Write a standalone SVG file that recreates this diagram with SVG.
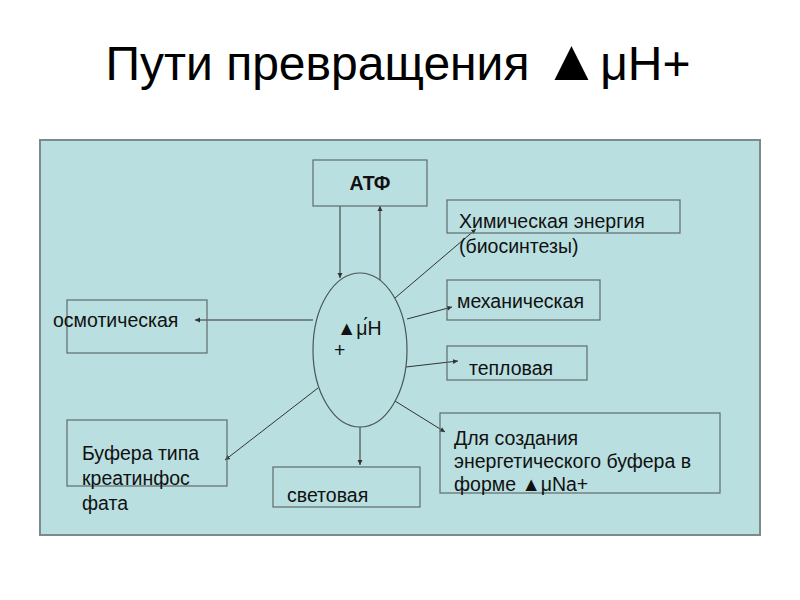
<svg xmlns="http://www.w3.org/2000/svg" width="800" height="600" viewBox="0 0 800 600">
<defs>
<marker id="arr" markerWidth="6" markerHeight="6" refX="5" refY="3" orient="auto" markerUnits="userSpaceOnUse">
<path d="M0,0.5 L5,3 L0,5.5 Z" fill="#333"/>
</marker>
<style>
.t{font-family:"Liberation Sans",Arial,sans-serif;fill:#111;font-size:19.5px}
.box{fill:none;stroke:#5f6b6b;stroke-width:1.2}
.ln{stroke:#333;stroke-width:1;fill:none;marker-end:url(#arr)}
</style>
</defs>
<rect width="800" height="600" fill="#ffffff"/>
<text x="398" y="80" text-anchor="middle" style="font-family:'Liberation Sans',Arial,sans-serif;font-size:48px;fill:#000">Пути превращения <tspan style="font-size:58px">▲</tspan>μH+</text>
<rect id="panel" x="40" y="140" width="720" height="395" fill="#b9dfe0" stroke="#7b8a8a" stroke-width="2"/>
<g id="connectors">
<line class="ln" x1="340" y1="206" x2="340" y2="278"/>
<line class="ln" x1="380" y1="280" x2="380" y2="206"/>
<line class="ln" x1="395" y1="298" x2="476" y2="229"/>
<line class="ln" x1="407" y1="319" x2="452" y2="307"/>
<line class="ln" x1="406" y1="367" x2="458" y2="361"/>
<line class="ln" x1="395" y1="401" x2="445" y2="432"/>
<line class="ln" x1="360" y1="427" x2="360" y2="465"/>
<line class="ln" x1="313" y1="320" x2="195" y2="320"/>
<line class="ln" x1="318" y1="388" x2="225" y2="460"/>
</g>
<g id="atf"><rect class="box" x="313" y="160" width="114" height="46"/><text class="t" x="370" y="190" text-anchor="middle" font-weight="bold">АТФ</text></g>
<g id="center"><ellipse cx="360" cy="350" rx="47" ry="77" fill="none" stroke="#4a5555" stroke-width="1.2"/><text class="t" x="337" y="335">▲μ́H</text><text class="t" x="334" y="357">+</text></g>
<g id="chem"><rect class="box" x="447" y="200" width="233" height="33"/><text class="t" x="459" y="228">Химическая энергия</text><text class="t" x="459" y="253">(биосинтезы)</text></g>
<g id="mech"><rect class="box" x="447" y="280" width="153" height="40"/><text class="t" x="457" y="308">механическая</text></g>
<g id="heat"><rect class="box" x="447" y="346" width="140" height="34"/><text class="t" x="469" y="375">тепловая</text></g>
<g id="osm"><rect class="box" x="67" y="300" width="140" height="53"/><text class="t" x="53" y="327">осмотическая</text></g>
<g id="buf"><rect class="box" x="67" y="420" width="160" height="66"/><text class="t" x="82" y="460">Буфера типа</text><text class="t" x="82" y="485">креатинфос</text><text class="t" x="82" y="510">фата</text></g>
<g id="light"><rect class="box" x="273" y="467" width="147" height="40"/><text class="t" x="287" y="502">световая</text></g>
<g id="na"><rect class="box" x="440" y="413" width="280" height="80"/><text class="t" x="454" y="445">Для создания</text><text class="t" x="454" y="468">энергетического буфера в</text><text class="t" x="454" y="491">форме ▲μNa+</text></g>
</svg>
